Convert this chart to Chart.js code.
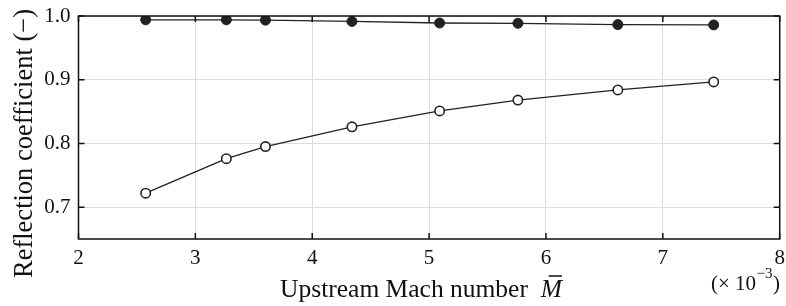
<!DOCTYPE html>
<html>
<head>
<meta charset="utf-8">
<script src="https://cdn.jsdelivr.net/npm/chart.js@4"></script>
<style>
  html, body { margin: 0; padding: 0; background: #fff; }
  #wrap { width: 786px; height: 306px; }
</style>
</head>
<body>
<div id="wrap"><canvas id="chart" width="786" height="306"></canvas></div>
<script>
// Mach number (x 10^-3)
const mach = [2.575, 3.265, 3.6, 4.34, 5.09, 5.76, 6.615, 7.435];
// reflection coefficient, filled markers
const reflFilled = [0.994, 0.994, 0.9935, 0.9915, 0.989, 0.9885, 0.9865, 0.986];
// reflection coefficient, open markers
const reflOpen = [0.722, 0.776, 0.795, 0.826, 0.851, 0.868, 0.884, 0.8965];
const xTicks = [2, 3, 4, 5, 6, 7, 8];
const yTicks = [0.7, 0.8, 0.9, 1.0];

const serif = '"Liberation Serif", "DejaVu Serif", serif';

function pts(ys) {
  return mach.map((m, i) => ({ x: m, y: ys[i] }));
}

// inward ticks on all four sides + axis titles
const decorations = {
  id: 'decorations',
  afterDraw(chart) {
    const ctx = chart.ctx;
    const a = chart.chartArea;
    const xs = chart.scales.x, ys = chart.scales.y;
    ctx.save();
    ctx.strokeStyle = '#111';
    ctx.lineWidth = 1.5;
    ctx.beginPath();
    xTicks.forEach(v => {
      const px = xs.getPixelForValue(v);
      ctx.moveTo(px, a.bottom); ctx.lineTo(px, a.bottom - 6);
      ctx.moveTo(px, a.top); ctx.lineTo(px, a.top + 6);
    });
    yTicks.forEach(v => {
      const py = ys.getPixelForValue(v);
      ctx.moveTo(a.left, py); ctx.lineTo(a.left + 6, py);
      ctx.moveTo(a.right, py); ctx.lineTo(a.right - 6, py);
    });
    ctx.stroke();
    ctx.strokeRect(a.left, a.top, a.right - a.left, a.bottom - a.top);

    ctx.fillStyle = '#111';
    ctx.textBaseline = 'alphabetic';

    // y axis title
    ctx.save();
    ctx.translate(32, 143.5);
    ctx.rotate(-Math.PI / 2);
    ctx.textAlign = 'center';
    ctx.font = '26.5px ' + serif;
    ctx.fillText('Reflection coefficient (\u2212)', 0, 0);
    ctx.restore();

    // x axis title with italic M-bar
    ctx.textAlign = 'left';
    const t1 = 'Upstream Mach number  ';
    ctx.font = '25.5px ' + serif;
    const w1 = ctx.measureText(t1).width;
    ctx.font = 'italic 25.5px ' + serif;
    const wM = ctx.measureText('M').width;
    const x0 = 421 - (w1 + wM) / 2;
    const base = 297;
    ctx.font = '25.5px ' + serif;
    ctx.fillText(t1, x0, base);
    ctx.font = 'italic 25.5px ' + serif;
    ctx.fillText('M', x0 + w1, base);
    ctx.lineWidth = 1.5;
    ctx.beginPath();
    ctx.moveTo(x0 + w1 + 8, base - 21);
    ctx.lineTo(x0 + w1 + wM, base - 21);
    ctx.stroke();

    // exponent label
    ctx.font = '21px ' + serif;
    const p1 = '(\u00d7 10';
    const wp = ctx.measureText(p1).width;
    const ex = 711;
    const eb = 290;
    ctx.fillText(p1, ex, eb);
    ctx.font = '15px ' + serif;
    const sup = '\u22123';
    ctx.fillText(sup, ex + wp + 0.5, eb - 12);
    const ws = ctx.measureText(sup).width;
    ctx.font = '21px ' + serif;
    ctx.fillText(')', ex + wp + ws + 1, eb);
    ctx.restore();
  }
};

new Chart(document.getElementById('chart').getContext('2d'), {
  type: 'line',
  data: {
    datasets: [
      {
        data: pts(reflFilled),
        borderColor: '#222',
        borderWidth: 1.3,
        pointBackgroundColor: '#222',
        pointBorderColor: '#222',
        pointRadius: 5,
        pointBorderWidth: 1,
        fill: false,
        tension: 0
      },
      {
        data: pts(reflOpen),
        borderColor: '#222',
        borderWidth: 1.3,
        pointBackgroundColor: '#fff',
        pointBorderColor: '#222',
        pointRadius: 4.7,
        pointBorderWidth: 1.6,
        fill: false,
        tension: 0
      }
    ]
  },
  options: {
    responsive: false,
    animation: false,
    layout: { padding: { top: 16, right: 3, left: 0, bottom: 0 } },
    plugins: { legend: { display: false }, tooltip: { enabled: false } },
    scales: {
      x: {
        type: 'linear',
        min: 2, max: 8,
        afterBuildTicks: s => { s.ticks = xTicks.map(v => ({ value: v })); },
        afterFit: s => { s.height = 67; s.paddingLeft = 0; s.paddingRight = 0; },
        grid: { color: '#dddddd', lineWidth: 1, drawTicks: false },
        border: { display: false },
        ticks: { color: '#111', font: { family: serif, size: 21 }, padding: 7, callback: v => String(v) }
      },
      y: {
        min: 0.65, max: 1.0,
        afterBuildTicks: s => { s.ticks = yTicks.map(v => ({ value: v })); },
        afterFit: s => { s.width = 78.5; s.paddingTop = 0; s.paddingBottom = 0; },
        grid: { color: '#dddddd', lineWidth: 1, drawTicks: false },
        border: { display: false },
        ticks: { color: '#111', font: { family: serif, size: 21 }, padding: 8, callback: v => v.toFixed(1) }
      }
    }
  },
  plugins: [decorations]
});
</script>
</body>
</html>
